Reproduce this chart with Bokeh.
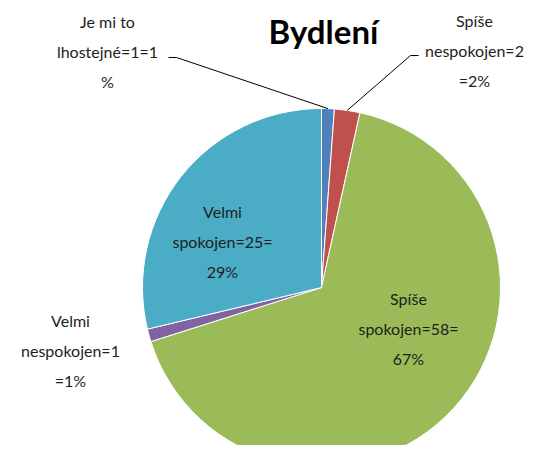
import math
from bokeh.plotting import figure
from bokeh.models import Range1d, ColumnDataSource
from bokeh.core.properties import value
from bokeh.embed import file_html
from bokeh.resources import INLINE

# ---- data ----
categories = ["Je mi to lhostejné", "Spíše nespokojen", "Spíše spokojen", "Velmi nespokojen", "Velmi spokojen"]
counts = [1, 2, 58, 1, 25]
percents = [1, 2, 67, 1, 29]
colors = ["#4F81BD", "#C0504D", "#9BBB59", "#8064A2", "#4BACC6"]
title_text = "Bydlení"

W, H = 535, 445
FONT = "Lato"

p = figure(width=W, height=H, output_backend="svg", toolbar_location=None,
           x_range=Range1d(0, W), y_range=Range1d(0, H), min_border=0)
p.axis.visible = False
p.grid.visible = False
p.outline_line_color = None

def pt(X, Y):
    # layout pixel -> data coords
    return X, H - Y

cx, cy = pt(321, 287)
R = 179

total = sum(counts)
starts, ends, mids = [], [], []
cum = 0.0
for c in counts:
    a0 = math.pi / 2 - 2 * math.pi * cum / total
    cum += c
    a1 = math.pi / 2 - 2 * math.pi * cum / total
    starts.append(a0); ends.append(a1); mids.append((a0 + a1) / 2)

src = ColumnDataSource(dict(start=starts, end=ends, color=colors))
p.wedge(x=cx, y=cy, radius=R, start_angle="start", end_angle="end", direction="clock",
        fill_color="color", line_color="white", line_width=1, source=src)

# title
tx, ty = pt(323, 30)
p.text(x=[tx], y=[ty], text=[title_text], text_font=value(FONT), text_font_size="33px",
       text_font_style="bold", text_align="center", text_baseline="middle", text_color="#000000")

# label texts (wrapped like the original)
texts = [
    "Je mi to\nlhostejné=%d=%d\n%%" % (counts[0], percents[0]),
    "Spíše\nnespokojen=%d\n=%d%%" % (counts[1], percents[1]),
    "Spíše\nspokojen=%d=\n%d%%" % (counts[2], percents[2]),
    "Velmi\nnespokojen=%d\n=%d%%" % (counts[3], percents[3]),
    "Velmi\nspokojen=%d=\n%d%%" % (counts[4], percents[4]),
]
label_pos = [pt(107, 51), pt(474, 50), pt(408, 328), pt(70, 350), pt(222, 241)]
lsrc = ColumnDataSource(dict(x=[q[0] for q in label_pos], y=[q[1] for q in label_pos], t=texts))
p.text(x="x", y="y", text="t", source=lsrc, text_font=value(FONT), text_font_size="16px",
       text_align="center", text_baseline="middle", text_color="#1E1E1E", text_line_height=1.6)

# leader lines
def edge(i):
    return cx + R * math.cos(mids[i]), cy + R * math.sin(mids[i])

a = pt(168, 57); b = pt(176, 57); e = edge(0)
p.line(x=[a[0], b[0], e[0]], y=[a[1], b[1], e[1]], line_color="#000000", line_width=1)
a = pt(418, 55); b = pt(410, 55); e = edge(1)
p.line(x=[a[0], b[0], e[0]], y=[a[1], b[1], e[1]], line_color="#000000", line_width=1)

open("out.html", "w").write(file_html(p, INLINE))
